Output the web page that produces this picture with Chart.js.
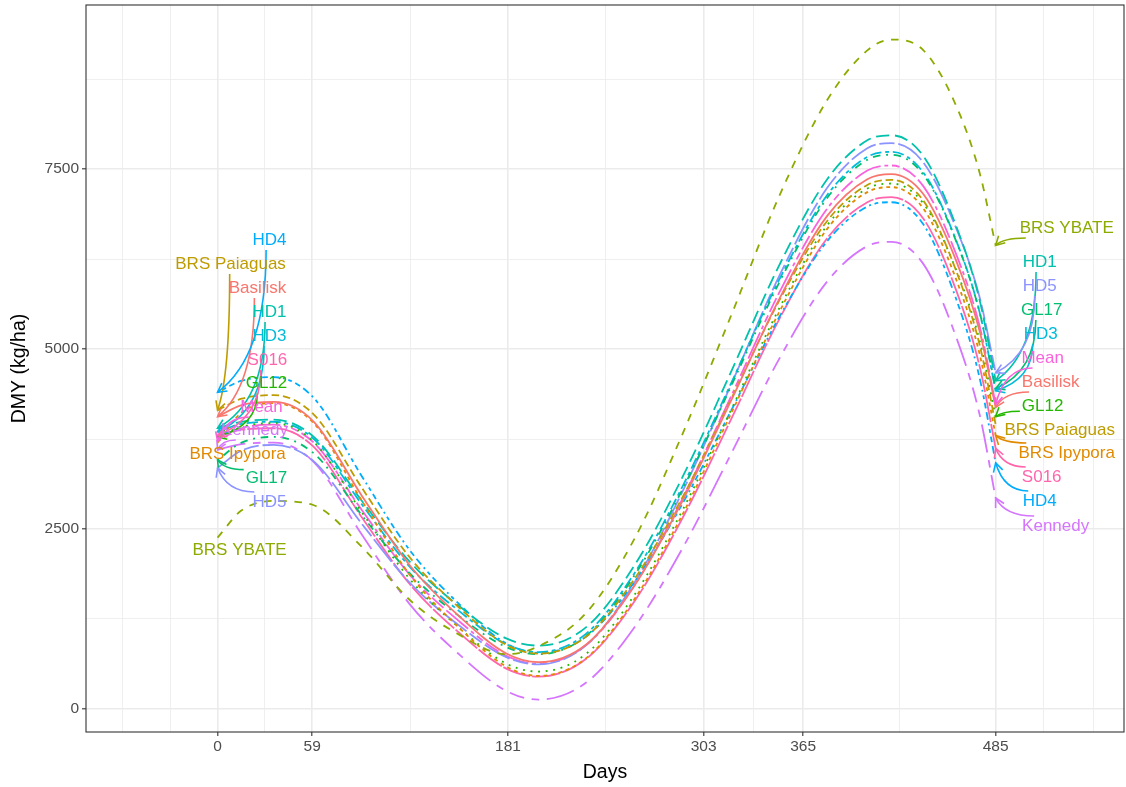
<!DOCTYPE html>
<html>
<head>
<meta charset="utf-8">
<script src="https://cdn.jsdelivr.net/npm/chart.js@4.4.1/dist/chart.umd.min.js"></script>
<style>
html, body { margin: 0; padding: 0; background: #fff; }
canvas { display: block; }
</style>
</head>
<body>
<canvas id="dmyChart" width="1126" height="787"></canvas>
<script>
// sample days along the fitted curves
const days = [0, 15, 35, 60, 90, 120, 150, 180, 200, 230, 260, 290, 320, 350, 380, 405, 420, 440, 460, 475, 485];

// DMY (kg/ha) per cultivar
const basilisk = [4060, 4220, 4265, 3990, 2960, 1990, 1300, 770, 650, 900, 1720, 2900, 4280, 5690, 6850, 7360, 7430, 7150, 6250, 5250, 4190];
const brsIpypora = [3700, 4120, 4250, 3970, 2890, 1860, 1140, 590, 460, 710, 1530, 2710, 4100, 5510, 6670, 7180, 7250, 6950, 5990, 4930, 3800];
const brsPaiaguas = [4150, 4310, 4360, 4090, 3070, 2100, 1420, 890, 770, 1010, 1810, 2950, 4300, 5670, 6780, 7280, 7350, 7060, 6110, 5060, 3950];
const brsYbate = [2380, 2760, 2890, 2830, 2250, 1510, 1040, 760, 870, 1340, 2370, 3830, 5460, 7120, 8460, 9150, 9300, 9150, 8400, 7450, 6440];
const gl12 = [3780, 3920, 3970, 3710, 2730, 1800, 1140, 630, 520, 770, 1590, 2770, 4150, 5560, 6720, 7230, 7300, 7020, 6120, 5120, 4060];
const gl17 = [3460, 3700, 3780, 3550, 2690, 1880, 1300, 860, 760, 1020, 1860, 3060, 4480, 5920, 7100, 7630, 7700, 7420, 6520, 5510, 4450];
const hd1 = [3900, 3990, 4020, 3780, 2890, 2040, 1440, 980, 880, 1140, 2000, 3230, 4680, 6160, 7360, 7900, 7970, 7680, 6730, 5680, 4560];
const hd3 = [3850, 3960, 3990, 3750, 2840, 1970, 1370, 900, 790, 1050, 1890, 3100, 4520, 5960, 7140, 7670, 7740, 7450, 6530, 5510, 4420];
const hd4 = [4400, 4560, 4610, 4320, 3230, 2200, 1470, 910, 780, 1010, 1770, 2860, 4140, 5440, 6500, 6980, 7040, 6730, 5720, 4600, 3420];
const hd5 = [3350, 3590, 3670, 3440, 2570, 1750, 1170, 720, 620, 890, 1760, 3030, 4500, 6010, 7240, 7790, 7860, 7590, 6700, 5720, 4670];
const kennedy = [3600, 3680, 3700, 3430, 2420, 1450, 770, 250, 130, 370, 1140, 2240, 3540, 4860, 5940, 6430, 6490, 6180, 5190, 4090, 2930];
const meanDmy = [3720, 3900, 3950, 3700, 2760, 1860, 1230, 740, 630, 890, 1720, 2930, 4340, 5780, 6950, 7480, 7550, 7260, 6340, 5320, 4230];
const s016 = [3800, 3880, 3900, 3640, 2660, 1730, 1070, 560, 450, 700, 1500, 2660, 4020, 5410, 6540, 7040, 7110, 6810, 5840, 4760, 3620];

const names = ['Basilisk', 'BRS Ipypora', 'BRS Paiaguas', 'BRS YBATE', 'GL12', 'GL17', 'HD1', 'HD3', 'HD4', 'HD5', 'Kennedy', 'Mean', 'S016'];
const values = [basilisk, brsIpypora, brsPaiaguas, brsYbate, gl12, gl17, hd1, hd3, hd4, hd5, kennedy, meanDmy, s016];

const xTicks = [0, 59, 181, 303, 365, 485];
const xMinor = [-59, -29.5, 29.5, 120, 242, 334, 425, 515, 546];
const yTicks = [0, 2500, 5000, 7500];
const yMinor = [1250, 3750, 6250, 8750];

// ggplot hue palette + linetype palette
const colors = ['#F8766D', '#E18A00', '#BE9C00', '#8CAB00', '#24B700', '#00BE70', '#00C1AB', '#00BBDA', '#00ACFC', '#8B93FF', '#D575FE', '#F962DD', '#FF65AC'];
const u = 1.9;
const dashes = [
    [], [2, 2], [4, 2], [4, 4], [1, 3], [1, 3, 4, 3], [7, 3], [2, 2, 6, 2],
    [1, 2, 2, 2, 3, 2, 4, 2], [15, 2, 8, 2], [15, 4, 4, 4, 8, 4, 4, 4], [2, 2, 4, 2, 8, 2, 15, 2], [15, 1]
].map(d => d.map(v => v * u));

// label anchor positions (day, DMY) at the start and end of the curves
const labelsLeft = {
    'HD4': [32.4, 6514], 'BRS Paiaguas': [8.1, 6181], 'Basilisk': [24.9, 5847], 'HD1': [32.4, 5514],
    'HD3': [32.4, 5181], 'S016': [31.1, 4847], 'GL12': [30.5, 4528], 'Mean': [27.4, 4194],
    'Kennedy': [23.0, 3875], 'BRS Ipypora': [12.5, 3542], 'GL17': [30.5, 3208], 'HD5': [32.4, 2875],
    'BRS YBATE': [13.7, 2208]
};
const labelsRight = {
    'BRS YBATE': [529.3, 6681], 'HD1': [512.5, 6208], 'HD5': [512.5, 5875], 'GL17': [513.7, 5542],
    'HD3': [513.1, 5208], 'Mean': [514.3, 4875], 'Basilisk': [519.3, 4542], 'GL12': [514.3, 4208],
    'BRS Paiaguas': [524.9, 3875], 'BRS Ipypora': [529.3, 3556], 'S016': [513.7, 3222],
    'HD4': [512.5, 2889], 'Kennedy': [522.4, 2542]
};

const FONT = '"Liberation Sans", Arial, sans-serif';

const datasets = names.map((n, i) => ({
    label: n,
    data: days.map((d, j) => ({ x: d, y: values[i][j] })),
    borderColor: colors[i],
    borderWidth: 1.8,
    borderDash: dashes[i],
    borderCapStyle: 'butt',
    pointRadius: 0,
    fill: false,
    cubicInterpolationMode: 'monotone'
}));

function drawArrow(ctx, sx, sy, tx, ty, color) {
    const dx = tx - sx, dy = ty - sy;
    let cx, cy;
    if (Math.abs(dy) > Math.abs(dx)) { cx = sx; cy = sy + 0.75 * dy; }
    else { cx = sx + 0.75 * dx; cy = sy; }
    ctx.strokeStyle = color;
    ctx.lineWidth = 1.6;
    ctx.setLineDash([]);
    ctx.beginPath();
    ctx.moveTo(sx, sy);
    ctx.quadraticCurveTo(cx, cy, tx, ty);
    ctx.stroke();
    const ang = Math.atan2(ty - cy, tx - cx);
    const len = 10;
    ctx.beginPath();
    ctx.moveTo(tx - len * Math.cos(ang - 0.5), ty - len * Math.sin(ang - 0.5));
    ctx.lineTo(tx, ty);
    ctx.lineTo(tx - len * Math.cos(ang + 0.5), ty - len * Math.sin(ang + 0.5));
    ctx.stroke();
}

const repelLabels = {
    id: 'repelLabels',
    afterDatasetsDraw(chart) {
        const { ctx, scales: { x, y } } = chart;
        ctx.save();
        ctx.font = '17px ' + FONT;
        ctx.textAlign = 'center';
        ctx.textBaseline = 'middle';
        const sides = [[labelsLeft, 0], [labelsRight, days.length - 1]];
        const texts = [];
        sides.forEach(([pos, idx]) => {
            names.forEach((n, i) => {
                const lx = x.getPixelForValue(pos[n][0]);
                const ly = y.getPixelForValue(pos[n][1]);
                const tx = x.getPixelForValue(days[idx]);
                const ty = y.getPixelForValue(values[i][idx]);
                const hw = ctx.measureText(n).width / 2 + 2, hh = 10;
                const dx = tx - lx, dy = ty - ly;
                const t = Math.min(dx ? hw / Math.abs(dx) : Infinity, dy ? hh / Math.abs(dy) : Infinity);
                if (t < 1) {
                    const sx = lx + t * dx, sy = ly + t * dy;
                    if (Math.hypot(tx - sx, ty - sy) > 8) drawArrow(ctx, sx, sy, tx, ty, colors[i]);
                }
                texts.push([n, lx, ly, colors[i]]);
            });
        });
        texts.forEach(([n, lx, ly, c]) => {
            ctx.fillStyle = c;
            ctx.fillText(n, lx, ly);
        });
        ctx.restore();
    }
};

const panelBorder = {
    id: 'panelBorder',
    afterDraw(chart) {
        const { ctx, chartArea: a } = chart;
        ctx.save();
        ctx.strokeStyle = '#333333';
        ctx.lineWidth = 1.1;
        ctx.strokeRect(a.left, a.top, a.right - a.left, a.bottom - a.top);
        ctx.restore();
    }
};

const ctx = document.getElementById('dmyChart').getContext('2d');
const dmyChart = new Chart(ctx, {
    type: 'line',
    data: { datasets: datasets },
    options: {
        responsive: false,
        animation: false,
        layout: { padding: { top: 5, right: 2, left: 0, bottom: 0 } },
        plugins: { legend: { display: false }, tooltip: { enabled: false } },
        scales: {
            x: {
                type: 'linear',
                min: -82,
                max: 565,
                afterBuildTicks: s => { s.ticks = xMinor.concat(xTicks).sort((a, b) => a - b).map(v => ({ value: v })); },
                afterFit: s => { s.height = 55; s.paddingLeft = 0; s.paddingRight = 0; },
                ticks: {
                    autoSkip: false,
                    maxRotation: 0,
                    padding: 1,
                    color: '#4D4D4D',
                    font: { family: FONT, size: 15.5 },
                    callback: v => xTicks.includes(v) ? String(v) : ''
                },
                grid: {
                    color: '#EBEBEB',
                    lineWidth: c => xTicks.includes(c.tick && c.tick.value) ? 1.6 : 0.8,
                    tickLength: 4,
                    tickWidth: 1.1,
                    tickColor: c => xTicks.includes(c.tick && c.tick.value) ? '#333333' : 'rgba(0,0,0,0)'
                },
                border: { display: false },
                title: { display: true, text: 'Days', color: '#000', font: { family: FONT, size: 19.5 }, padding: { top: 0, bottom: 3 } }
            },
            y: {
                type: 'linear',
                min: -320,
                max: 9780,
                afterBuildTicks: s => { s.ticks = yTicks.concat(yMinor).sort((a, b) => a - b).map(v => ({ value: v })); },
                afterFit: s => { s.width = 86; s.paddingTop = 0; s.paddingBottom = 0; },
                ticks: {
                    autoSkip: false,
                    padding: 3,
                    color: '#4D4D4D',
                    font: { family: FONT, size: 15.5 },
                    callback: v => yTicks.includes(v) ? String(v) : ''
                },
                grid: {
                    color: '#EBEBEB',
                    lineWidth: c => yTicks.includes(c.tick && c.tick.value) ? 1.6 : 0.8,
                    tickLength: 4,
                    tickWidth: 1.1,
                    tickColor: c => yTicks.includes(c.tick && c.tick.value) ? '#333333' : 'rgba(0,0,0,0)'
                },
                border: { display: false },
                title: { display: true, text: 'DMY (kg/ha)', color: '#000', font: { family: FONT, size: 19.5 }, padding: { top: 8, bottom: 0 } }
            }
        }
    },
    plugins: [repelLabels, panelBorder]
});
</script>
</body>
</html>
